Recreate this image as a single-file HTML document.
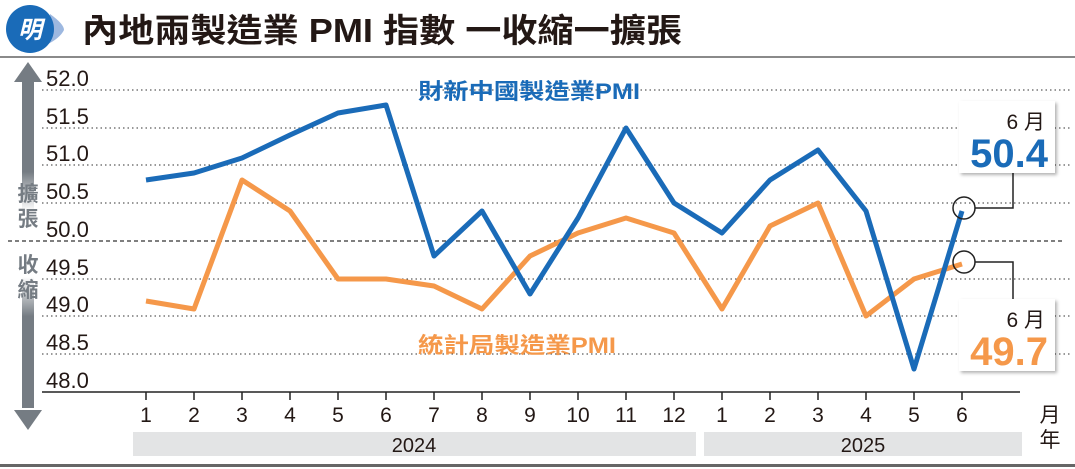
<!DOCTYPE html>
<html><head><meta charset="utf-8"><style>
body{margin:0;background:#fff;}
svg{display:block;font-family:"Liberation Sans","Noto Sans CJK TC",sans-serif;}
</style></head><body>
<svg width="1075" height="469" viewBox="0 0 1075 469">
<defs>
<linearGradient id="ag" x1="0" y1="0" x2="0" y2="1">
<stop offset="0" stop-color="#757c83"/><stop offset="0.28" stop-color="#757c83"/>
<stop offset="0.4" stop-color="#fff"/><stop offset="0.6" stop-color="#fff"/>
<stop offset="0.72" stop-color="#757c83"/><stop offset="1" stop-color="#757c83"/>
</linearGradient>
<filter id="sh" x="-10%" y="-10%" width="130%" height="130%"><feDropShadow dx="2" dy="2" stdDeviation="1.5" flood-color="#000" flood-opacity="0.3"/></filter>
</defs>
<path d="M50 14 Q64 24 64 30 Q60 38 48 44 Z" fill="#9db8e0"/>
<circle cx="30" cy="29" r="24" fill="#1a6bb8"/>
<text x="30" y="38" font-size="24" fill="#fff" text-anchor="middle" font-weight="bold" font-style="italic">明</text>
<text x="82" y="42" font-size="33" font-weight="bold" fill="#231815" textLength="600" lengthAdjust="spacingAndGlyphs">內地兩製造業 PMI 指數 一收縮一擴張</text>
<rect x="0" y="56" width="1075" height="2" fill="#8a8a8a"/>
<rect x="22" y="80" width="12" height="328" fill="url(#ag)"/>
<polygon points="28,62 42,82 14,82" fill="#757c83"/>
<polygon points="28,430 42,410 14,410" fill="#757c83"/>
<g font-size="21" font-weight="bold" fill="#757c83" text-anchor="middle">
<text x="28" y="201">擴</text><text x="28" y="226">張</text>
<text x="28" y="272">收</text><text x="28" y="297">縮</text>
</g>
<g stroke="#333" stroke-width="1" stroke-dasharray="1.5,3">
<line x1="42" y1="90" x2="1070" y2="90"/><line x1="42" y1="128" x2="1070" y2="128"/>
<line x1="42" y1="165" x2="1070" y2="165"/><line x1="42" y1="203" x2="1070" y2="203"/>
<line x1="42" y1="279" x2="1070" y2="279"/><line x1="42" y1="316" x2="1070" y2="316"/>
<line x1="42" y1="354" x2="1070" y2="354"/>
</g>
<line x1="8" y1="241" x2="1062" y2="241" stroke="#333" stroke-width="1.2" stroke-dasharray="4,3"/>
<line x1="42" y1="392" x2="1020" y2="392" stroke="#222" stroke-width="1.5"/>
<g font-size="22" fill="#231815">
<text x="46" y="86">52.0</text><text x="46" y="124">51.5</text><text x="46" y="161">51.0</text>
<text x="46" y="199">50.5</text><text x="46" y="237">50.0</text><text x="46" y="275">49.5</text>
<text x="46" y="312">49.0</text><text x="46" y="350">48.5</text><text x="46" y="388">48.0</text>
</g>
<g stroke="#222" stroke-width="1.5">
<line x1="146" y1="392" x2="146" y2="400"/><line x1="194" y1="392" x2="194" y2="400"/><line x1="242" y1="392" x2="242" y2="400"/><line x1="290" y1="392" x2="290" y2="400"/><line x1="338" y1="392" x2="338" y2="400"/><line x1="386" y1="392" x2="386" y2="400"/><line x1="434" y1="392" x2="434" y2="400"/><line x1="482" y1="392" x2="482" y2="400"/><line x1="530" y1="392" x2="530" y2="400"/><line x1="578" y1="392" x2="578" y2="400"/><line x1="626" y1="392" x2="626" y2="400"/><line x1="674" y1="392" x2="674" y2="400"/><line x1="722" y1="392" x2="722" y2="400"/><line x1="770" y1="392" x2="770" y2="400"/><line x1="818" y1="392" x2="818" y2="400"/><line x1="866" y1="392" x2="866" y2="400"/><line x1="914" y1="392" x2="914" y2="400"/><line x1="962" y1="392" x2="962" y2="400"/>
</g>
<g font-size="21" fill="#231815" text-anchor="middle">
<text x="146" y="422">1</text><text x="194" y="422">2</text><text x="242" y="422">3</text><text x="290" y="422">4</text><text x="338" y="422">5</text><text x="386" y="422">6</text><text x="434" y="422">7</text><text x="482" y="422">8</text><text x="530" y="422">9</text><text x="578" y="422">10</text><text x="626" y="422">11</text><text x="674" y="422">12</text><text x="722" y="422">1</text><text x="770" y="422">2</text><text x="818" y="422">3</text><text x="866" y="422">4</text><text x="914" y="422">5</text><text x="962" y="422">6</text>
<text x="1050" y="422">月</text><text x="1050" y="447">年</text>
</g>
<rect x="133" y="432" width="563" height="24" fill="#e3e4e5"/>
<rect x="704" y="432" width="318" height="24" fill="#e3e4e5"/>
<text x="414" y="452" font-size="20" fill="#231815" text-anchor="middle">2024</text>
<text x="863" y="452" font-size="20" fill="#231815" text-anchor="middle">2025</text>
<rect x="0" y="464" width="1075" height="3" fill="#666"/>
<polyline fill="none" stroke="#f5984a" stroke-width="5" stroke-linejoin="round" points="146,301 194,309 242,180 290,211 338,279 386,279 434,286 482,309 530,256 578,233 626,218 674,233 722,309 770,226 818,203 866,316 914,279 962,264"/>
<polyline fill="none" stroke="#1a6bb8" stroke-width="5" stroke-linejoin="round" points="146,180 194,173 242,158 290,135 338,113 386,105 434,256 482,211 530,294 578,218 626,128 674,203 722,233 770,180 818,150 866,211 914,369 962,211"/>
<text x="418" y="99" font-size="22" font-weight="bold" fill="#1a6bb8" textLength="222" lengthAdjust="spacingAndGlyphs">財新中國製造業PMI</text>
<text x="418" y="353" font-size="22" font-weight="bold" fill="#f5984a" textLength="198" lengthAdjust="spacingAndGlyphs">統計局製造業PMI</text>
<circle cx="964" cy="208" r="11" fill="none" stroke="#222" stroke-width="1.5"/>
<circle cx="964" cy="262" r="11" fill="none" stroke="#222" stroke-width="1.5"/>
<polyline fill="none" stroke="#222" stroke-width="1.5" points="975,208 1013,208 1013,172"/>
<polyline fill="none" stroke="#222" stroke-width="1.5" points="975,262 1013,262 1013,300"/>
<rect x="959" y="101" width="96" height="72" fill="#fff" filter="url(#sh)"/>
<rect x="959" y="299" width="96" height="72" fill="#fff" filter="url(#sh)"/>
<text x="1045" y="129" font-size="21" fill="#231815" text-anchor="end">6 月</text>
<text x="1048" y="167" font-size="40" font-weight="bold" fill="#1a6bb8" text-anchor="end">50.4</text>
<text x="1045" y="327" font-size="21" fill="#231815" text-anchor="end">6 月</text>
<text x="1048" y="365" font-size="40" font-weight="bold" fill="#f5984a" text-anchor="end">49.7</text>
</svg>
</body></html>
